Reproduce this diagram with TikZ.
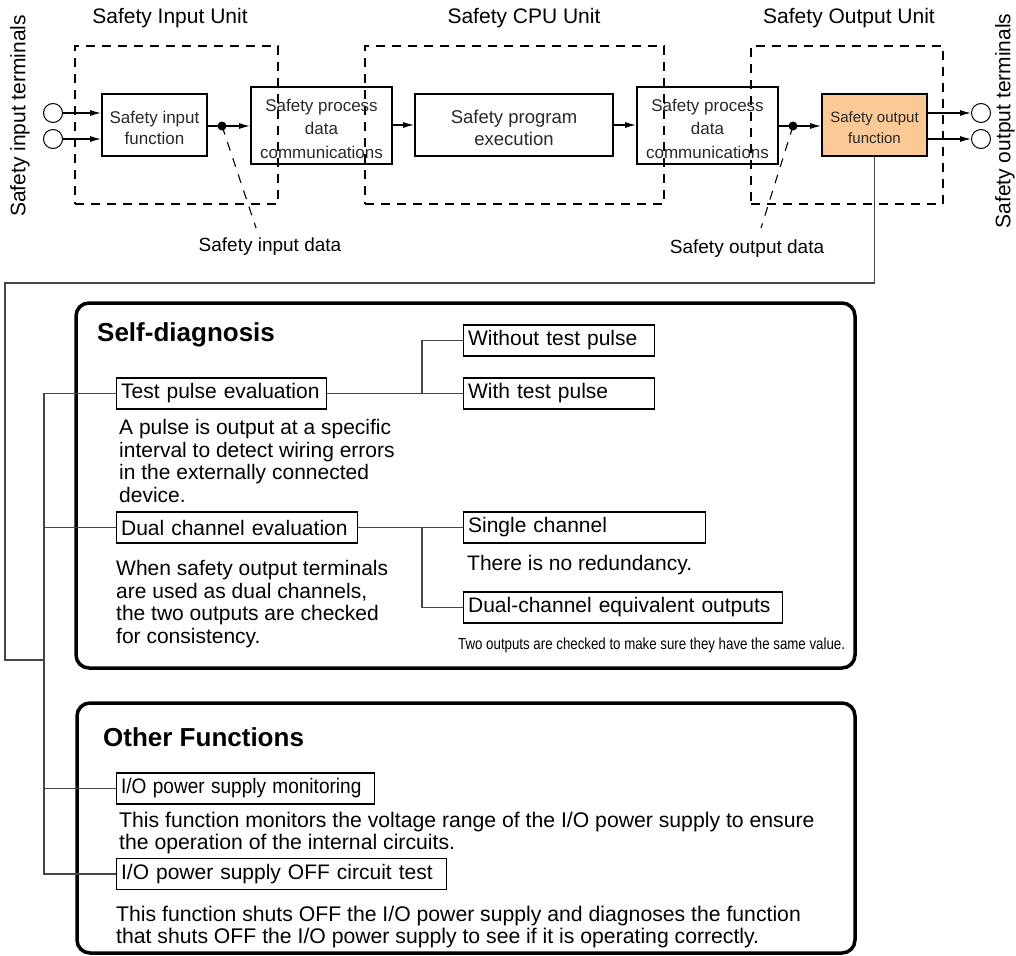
\documentclass[tikz,border=0pt]{standalone}
\usepackage{fontspec}
\setmainfont{Liberation Sans}
\usepackage{graphicx}
\usetikzlibrary{arrows.meta}
\definecolor{orangefill}{RGB}{250,201,150}
\definecolor{linegray}{RGB}{70,70,70}
\definecolor{txtgray}{RGB}{40,40,40}
\begin{document}
\begin{tikzpicture}[x=1pt,y=-1pt,
  unitbox/.style={draw, dash pattern=on 9pt off 7pt, line width=1.1pt, inner sep=0pt},
  fbox/.style={draw, line width=2pt, inner sep=0pt},
  ftext/.style={align=center, inner sep=0pt, text=txtgray},
  term/.style={draw, circle, minimum size=19pt, inner sep=0pt, line width=1pt, fill=white},
  jdot/.style={circle, fill=black, minimum size=9pt, inner sep=0pt},
  arr/.style={-{Latex[length=11pt,width=6pt]}, line width=1.2pt},
  conn/.style={line width=1.2pt, draw=linegray},
  ddash/.style={line width=1.1pt, dash pattern=on 9pt off 8pt},
  item/.style={draw, line width=1.2pt, inner xsep=4.5pt, inner ysep=0pt, minimum height=31pt, anchor=west, align=left, font=\fontsize{21}{23}\selectfont},
  desc/.style={anchor=west, align=left, inner sep=0pt, font=\fontsize{21}{22.7}\selectfont},
  odesc/.style={anchor=west, align=left, inner sep=0pt, font=\fontsize{21.2}{22}\selectfont},
  bigbox/.style={draw, line width=3.5pt, rounded corners=13pt, inner sep=0pt},
  unitlbl/.style={font=\fontsize{21}{23}\selectfont, inner sep=0pt},
  ttl/.style={font=\bfseries\fontsize{26}{28}\selectfont, anchor=west, inner sep=0pt}
]
\useasboundingbox (0,0) rectangle (1016,955);

% unit frames
\node[unitbox, minimum width=203pt, minimum height=158pt] (u1) at (176.5,125) {};
\node[unitbox, minimum width=299pt, minimum height=158pt] (u2) at (514.5,125) {};
\node[unitbox, minimum width=192pt, minimum height=158pt] (u3) at (847,125) {};
\node[unitlbl] (l1) at (170,18) {Safety Input Unit};
\node[unitlbl] (l2) at (524,18) {Safety CPU Unit};
\node[unitlbl] (l3) at (849,18) {Safety Output Unit};
\node[unitlbl, rotate=90] (lt1) at (20,116) {Safety input terminals};
\node[unitlbl, rotate=90] (lt2) at (1005,121) {Safety output terminals};

% function boxes
\node[fbox, minimum width=105pt, minimum height=62pt] (inf) at (154.5,125) {};
\node[fbox, minimum width=141pt, minimum height=77pt] (pdc1) at (321.5,125.5) {};
\node[fbox, minimum width=198pt, minimum height=62pt] (prog) at (514,125) {};
\node[fbox, minimum width=141pt, minimum height=77pt] (pdc2) at (707.5,125.5) {};
\node[fbox, fill=orangefill, minimum width=105pt, minimum height=62pt] (outf) at (874.5,125) {};
\node[ftext, font=\fontsize{17}{21.5}\selectfont] (inft) at ([yshift=-3pt]inf.center) {Safety input\\function};
\node[ftext, font=\fontsize{17}{23.5}\selectfont] (pdc1t) at ([yshift=-3pt]pdc1.center) {Safety process\\data\\communications};
\node[ftext, font=\fontsize{18.5}{21.5}\selectfont] (progt) at ([yshift=-3pt]prog.center) {Safety program\\execution};
\node[ftext, font=\fontsize{17}{23.5}\selectfont] (pdc2t) at ([yshift=-3pt]pdc2.center) {Safety process\\data\\communications};
\node[ftext, font=\fontsize{15}{21}\selectfont] (outft) at ([yshift=-3pt]outf.center) {Safety output\\function};

% terminals
\node[term] (ti1) at (53,113) {};
\node[term] (ti2) at (53,139) {};
\node[term] (to1) at (981,113) {};
\node[term] (to2) at (981,139) {};
\node[jdot] (d1) at (222,126) {};
\node[jdot] (d2) at (793,126) {};
\coordinate (e1) at (256,228);
\coordinate (e2) at (761,228);
\node[font=\fontsize{19}{21}\selectfont] (sid) at (270,247) {Safety input data};
\node[font=\fontsize{19}{21}\selectfont] (sod) at (747,249) {Safety output data};

\draw[arr] (ti1.east) -- (ti1.east -| inf.west);
\draw[arr] (ti2.east) -- (ti2.east -| inf.west);
\draw[line width=1.2pt] (inf.east |- d1) -- (d1.center);
\draw[arr] (d1.center) -- (d1 -| pdc1.west);
\draw[arr] (pdc1.east |- prog) -- (prog.west);
\draw[arr] (prog.east) -- (prog.east -| pdc2.west);
\draw[line width=1.2pt] (pdc2.east |- d2) -- (d2.center);
\draw[arr] (d2.center) -- (d2 -| outf.west);
\draw[arr] (outf.east |- to1) -- (to1.west);
\draw[arr] (outf.east |- to2) -- (to2.west);
\draw[ddash] (d1.center) -- (e1);
\draw[ddash] (d2.center) -- (e2);

% big boxes
\node[bigbox, minimum width=779pt, minimum height=365pt] (sd) at (465.5,485.5) {};
\node[bigbox, minimum width=778pt, minimum height=250pt] (of) at (466,828) {};
\node[ttl] (sdt) at (97,335) {Self-diagnosis};
\node[ttl] (oft) at (103,737) {Other Functions};

% items
\node[item, text width=201pt] (tpe) at (116,393.5) {Test pulse evaluation};
\node[item, text width=232pt] (dce) at (116,527.5) {Dual channel evaluation};
\node[item, text width=182pt] (wo) at (463,340.5) {Without test pulse};
\node[item, text width=233pt] (sc) at (463,527.5) {Single channel};
\node[item, text width=182pt] (wi) at (463,393.5) {With test pulse};
\node[item, text width=310pt] (dceo) at (463,607.5) {Dual-channel equivalent outputs};
\node[item, text width=249pt] (iom) at (116,788.5) {\scalebox{0.907}[1]{I/O power supply monitoring}};
\node[item, text width=321pt] (iot) at (116,874) {I/O power supply OFF circuit test};

% descriptions
\node[desc] (tpd) at (119,461) {A pulse is output at a specific\\interval to detect wiring errors\\in the externally connected\\device.};
\node[desc] (dcd) at (116,604) {When safety output terminals\\are used as dual channels,\\the two outputs are checked\\for consistency.};
\node[desc] (scd) at (467,565) {There is no redundancy.};
\node[anchor=west, inner sep=0pt, font=\fontsize{16}{18}\selectfont] (dcod) at (458,645) {\scalebox{0.83}[1]{Two outputs are checked to make sure they have the same value.}};
\node[odesc] (iomd) at (119,833) {This function monitors the voltage range of the I/O power supply to ensure\\the operation of the internal circuits.};
\node[odesc] (iotd) at (116,927) {This function shuts OFF the I/O power supply and diagnoses the function\\that shuts OFF the I/O power supply to see if it is operating correctly.};

% connectors
\coordinate (c1) at (874.5,283);
\coordinate (c2) at (5,283);
\coordinate (c3) at (5,660);
\coordinate (b) at (44,660);
\coordinate (r) at (422,0);
\draw[conn] (outf.south) -- (c1) -- (c2) -- (c3) -- (b);
\draw[conn] (tpe.west) -- (tpe.west -| b) -- (iot.west -| b) -- (iot.west);
\draw[conn] (dce.west) -- (dce.west -| b);
\draw[conn] (iom.west) -- (iom.west -| b);
\draw[conn] (tpe.east) -- (tpe.east -| r);
\draw[conn] (wo.west) -- (wo.west -| r) -- (wi.west -| r) -- (wi.west);
\draw[conn] (dce.east) -- (dce.east -| r);
\draw[conn] (sc.west) -- (sc.west -| r) -- (dceo.west -| r) -- (dceo.west);
\end{tikzpicture}
\end{document}
